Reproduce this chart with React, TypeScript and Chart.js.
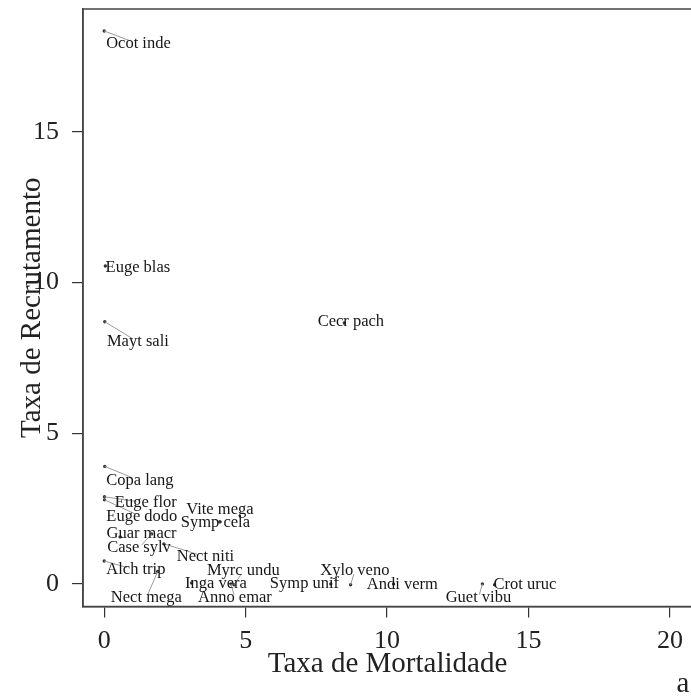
import { useEffect, useRef } from "react";
import { Chart, registerables } from "chart.js";

Chart.register(...registerables);

// ---- data ----
const species = [
  "Ocot inde", "Euge blas", "Mayt sali", "Cecr pach", "Copa lang", "Euge flor",
  "Euge dodo", "Vite mega", "Symp cela", "Guar macr", "Case sylv", "Nect niti",
  "Alch trip", "Nect mega", "Inga vera", "Myrc undu", "Anno emar", "Symp unif",
  "Xylo veno", "Andi verm", "Crot uruc", "Guet vibu",
];
// Taxa de Mortalidade (x)
const mortality = [
  0.0, 0.04, 0.02, 8.49, 0.02, 0.01,
  0.01, 4.09, 4.09, 0.56, 1.68, 2.11,
  0.0, 1.89, 3.09, 4.59, 4.48, 8.01,
  8.71, 10.23, 13.8, 13.37,
];
// Taxa de Recrutamento (y)
const recruitment = [
  18.35, 10.55, 8.7, 8.66, 3.9, 2.89,
  2.79, 2.06, 2.06, 1.56, 1.66, 1.33,
  0.76, 0.41, 0.03, -0.03, 0.0, 0.0,
  -0.03, 0.0, -0.03, 0.0,
];
// repelled label positions (data units)
const labelMortality = [
  1.21, 1.19, 1.19, 8.72, 1.26, 1.47,
  1.33, 4.09, 3.93, 1.32, 1.23, 3.58,
  1.12, 1.49, 3.95, 4.92, 4.62, 7.08,
  8.86, 10.54, 14.87, 13.23,
];
const labelRecruitment = [
  17.92, 10.49, 8.03, 8.7, 3.42, 2.69,
  2.22, 2.46, 2.02, 1.66, 1.19, 0.9,
  0.46, -0.46, 0.0, 0.43, -0.46, 0.0,
  0.43, -0.03, -0.03, -0.46,
];
const xTicks = [0, 5, 10, 15, 20];
const yTicks = [0, 5, 10, 15];
const xTitle = "Taxa de Mortalidade";
const yTitle = "Taxa de Recrutamento";
const panelTag = "a";

const FONT = "'Liberation Serif', 'DejaVu Serif', serif";

const repelLabels = {
  id: "repelLabels",
  afterDatasetsDraw(chart: any) {
    const { ctx, chartArea: a, scales } = chart;
    const x = scales.x, y = scales.y;
    ctx.save();
    ctx.beginPath();
    ctx.rect(a.left, a.top, a.right - a.left, a.bottom - a.top);
    ctx.clip();
    ctx.font = `16.5px ${FONT}`;
    const H = 7;
    ctx.strokeStyle = "#9a9a9a";
    ctx.lineWidth = 1;
    species.forEach((name, i) => {
      const px = x.getPixelForValue(mortality[i]);
      const py = y.getPixelForValue(recruitment[i]);
      const lx = x.getPixelForValue(labelMortality[i]);
      const ly = y.getPixelForValue(labelRecruitment[i]);
      const w = ctx.measureText(name).width / 2;
      const rx = Math.abs(px - lx), ry = Math.abs(py - ly);
      if (rx <= w && ry <= H) return;
      const len = Math.hypot(lx - px, ly - py);
      const tEnter = 1 - Math.min(rx > 0 ? w / rx : Infinity, ry > 0 ? H / ry : Infinity);
      if (tEnter * len < 6) return;
      const tEnd = 1 - Math.min(rx > 0 ? (0.3 * w) / rx : Infinity, ry > 0 ? 3 / ry : Infinity);
      ctx.beginPath();
      ctx.moveTo(px, py);
      ctx.lineTo(px + (lx - px) * tEnd, py + (ly - py) * tEnd);
      ctx.stroke();
    });
    ctx.fillStyle = "#161616";
    ctx.textAlign = "center";
    ctx.textBaseline = "middle";
    species.forEach((name, i) => {
      ctx.fillText(name, x.getPixelForValue(labelMortality[i]), y.getPixelForValue(labelRecruitment[i]));
    });
    ctx.restore();
  },
  afterDraw(chart: any) {
    const { ctx, chartArea: a } = chart;
    ctx.save();
    ctx.strokeStyle = "#444";
    ctx.lineWidth = 1.5;
    ctx.strokeRect(a.left, a.top, a.right - a.left, a.bottom - a.top);
    ctx.fillStyle = "#222";
    ctx.font = `29px ${FONT}`;
    ctx.textAlign = "center";
    ctx.textBaseline = "alphabetic";
    ctx.fillText(panelTag, a.right - 9, chart.height - 4);
    ctx.restore();
  },
};

const zeroPad = (s: any) => {
  s.paddingLeft = 0;
  s.paddingRight = 0;
  s.paddingTop = 0;
  s.paddingBottom = 0;
};

export default function App() {
  const ref = useRef<HTMLCanvasElement | null>(null);
  useEffect(() => {
    if (!ref.current) return;
    const chart = new Chart(ref.current, {
      type: "scatter",
      data: {
        datasets: [
          {
            data: mortality.map((v, i) => ({ x: v, y: recruitment[i] })),
            pointRadius: 1.7,
            pointBackgroundColor: "#333",
            pointBorderWidth: 0,
          },
        ],
      },
      options: {
        animation: false,
        responsive: false,
        devicePixelRatio: 1,
        layout: { padding: { left: 0, top: 9, right: 8, bottom: 0 } },
        plugins: { legend: { display: false }, tooltip: { enabled: false } },
        scales: {
          x: {
            type: "linear",
            position: "bottom",
            min: -0.75,
            max: 20.78,
            afterBuildTicks: (s: any) => {
              s.ticks = xTicks.map((v) => ({ value: v }));
            },
            afterFit: (s: any) => {
              zeroPad(s);
              s.height = 89.5;
            },
            grid: { drawOnChartArea: false, drawTicks: true, tickLength: 11, color: "#333", lineWidth: 1.2 },
            border: { display: true, color: "#444", width: 1.5 },
            ticks: { font: { family: FONT, size: 26 }, color: "#222", padding: 8, maxRotation: 0, autoSkip: false },
            title: {
              display: true,
              text: xTitle,
              color: "#222",
              font: { family: FONT, size: 29 },
              padding: { top: 0, bottom: 14.5 },
            },
          },
          y: {
            type: "linear",
            min: -0.75,
            max: 19.08,
            afterBuildTicks: (s: any) => {
              s.ticks = yTicks.map((v) => ({ value: v }));
            },
            afterFit: (s: any) => {
              zeroPad(s);
              s.width = 83;
            },
            grid: { drawOnChartArea: false, drawTicks: true, tickLength: 11, color: "#333", lineWidth: 1.2 },
            border: { display: true, color: "#444", width: 1.5 },
            ticks: { font: { family: FONT, size: 26 }, color: "#222", padding: 13, autoSkip: false },
            title: {
              display: true,
              text: yTitle,
              color: "#222",
              font: { family: FONT, size: 29 },
              padding: { top: 14.6, bottom: 0 },
            },
          },
        },
      },
      plugins: [repelLabels],
    });
    return () => chart.destroy();
  }, []);
  return (
    <div
      style={{
        position: "fixed",
        left: 0,
        top: 0,
        width: 691,
        height: 696,
        overflow: "hidden",
        background: "#fff",
      }}
    >
      <canvas ref={ref} width={700} height={696} style={{ display: "block", width: 700, height: 696 }} />
    </div>
  );
}
